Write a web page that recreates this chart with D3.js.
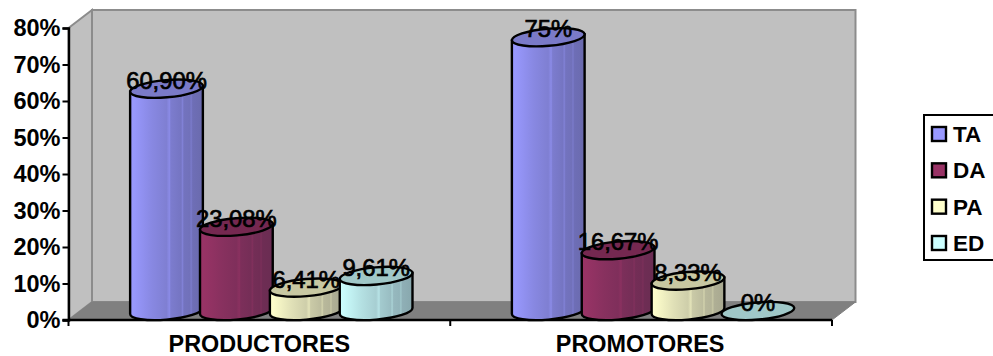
<!DOCTYPE html>
<html>
<head>
<meta charset="utf-8">
<script src="https://cdn.jsdelivr.net/npm/d3@7"></script>
<style>
html,body{margin:0;padding:0;background:#fff;overflow:hidden}
text{font-family:"Liberation Sans",Arial,sans-serif;font-weight:bold;fill:#000}
</style>
</head>
<body>
<svg id="chart" width="993" height="356"></svg>
<script>
const categories = ["PRODUCTORES", "PROMOTORES"];
const seriesNames = ["TA", "DA", "PA", "ED"];
const productores = [60.90, 23.08, 6.41, 9.61];
const promotores = [75, 16.67, 8.33, 0];
const valueLabels = [["60,90%", "23,08%", "6,41%", "9,61%"], ["75%", "16,67%", "8,33%", "0%"]];
const yTicks = [0, 10, 20, 30, 40, 50, 60, 70, 80];
const baseColors = ["#9999ff", "#993366", "#ffffcc", "#ccffff"];
const capColors = ["#7a7ac8", "#752850", "#c8c8a2", "#a0c8c8"];
const seriesValues = [productores, promotores];

const svg = d3.select("#chart");
const x0 = 68.5, x1 = 832, yBottom = 320, yTop = 28;
const depthX = 23.5, depthY = 18;

const y = d3.scaleLinear().domain([0, 80]).range([yBottom, yTop]);
const xCat = d3.scaleBand().domain(categories).range([x0, x1]);
const xSeries = d3.scaleBand().domain(seriesNames).range([0, 279.5]).paddingInner(0);
const barW = 73, rx = barW / 2, ry = 8.6, tilt = -5;

// Horizontal shading shared by every cylinder of one series, with faint facet stripes
const defs = svg.append("defs");
const shadeStops = [[0, 0], [.06, .02], [.3, .14], [.5, .22], [.54, .12], [.56, .24], [.7, .3], [.72, .2], [.74, .32], [.82, .34], [.84, .26], [.86, .36], [.94, .38], [1, .4]];
seriesNames.forEach((s, i) => {
  const g = defs.append("linearGradient").attr("id", "shade" + s);
  shadeStops.forEach(([o, k]) => {
    g.append("stop").attr("offset", o).attr("stop-color", d3.interpolateRgb(baseColors[i], "#222233")(k));
  });
});

// Back wall, side wall and floor
const wall = d => d.map(p => p.join(",")).join(" ");
svg.append("polygon").attr("points", wall([[x0, yTop], [x0 + depthX, yTop - depthY], [x0 + depthX, yBottom - depthY], [x0, yBottom]]))
  .attr("fill", "#c0c0c0").attr("stroke", "#8c8c8c").attr("stroke-width", 2);
svg.append("polygon").attr("points", wall([[x0 + depthX, yTop - depthY], [x1 + depthX, yTop - depthY], [x1 + depthX, yBottom - depthY], [x0 + depthX, yBottom - depthY]]))
  .attr("fill", "#c0c0c0").attr("stroke", "#8c8c8c").attr("stroke-width", 2);
svg.append("polygon").attr("points", wall([[x0, yBottom], [x0 + depthX, yBottom - depthY], [x1 + depthX, yBottom - depthY], [x1, yBottom]]))
  .attr("fill", "#808080").attr("stroke", "#808080");

// Axes
const yAxis = d3.axisLeft(y).tickValues(yTicks).tickFormat(d => d + "%").tickSize(6).tickPadding(2);
const gy = svg.append("g").attr("transform", `translate(${x0},0)`).call(yAxis);
gy.select(".domain").attr("stroke", "#000").attr("stroke-width", 2.4);
gy.selectAll(".tick line").attr("stroke", "#000").attr("stroke-width", 2);
gy.selectAll(".tick text").attr("font-size", 23.5).style("font-family", '"Liberation Sans",Arial,sans-serif').style("font-weight", "bold");

svg.append("line").attr("x1", x0 - 6).attr("x2", x1).attr("y1", yBottom).attr("y2", yBottom).attr("stroke", "#000").attr("stroke-width", 2.4);
const catEdges = [xCat.range()[0], xCat(categories[1]), xCat.range()[1]];
svg.selectAll("line.cat").data(catEdges).join("line").attr("class", "cat")
  .attr("x1", d => d).attr("x2", d => d).attr("y1", yBottom).attr("y2", yBottom + 6)
  .attr("stroke", "#000").attr("stroke-width", 2);
svg.selectAll("text.cat").data(categories).join("text").attr("class", "cat")
  .attr("x", d => xCat(d) + xCat.bandwidth() / 2 - (d === categories[0] ? 0 : 1))
  .attr("y", 352).attr("text-anchor", "middle").attr("font-size", 23.4).text(d => d);

// Side extremes of the tilted ellipse used for the cylinder outline
const th = tilt * Math.PI / 180;
const tt = Math.atan(-(ry / rx) * Math.tan(th));
const extX = rx * Math.cos(tt) * Math.cos(th) - ry * Math.sin(tt) * Math.sin(th);
const extY = rx * Math.cos(tt) * Math.sin(th) + ry * Math.sin(tt) * Math.cos(th);

const groupOffset = 61.5;
const labelLayer = [];
categories.forEach((cat, c) => {
  seriesNames.forEach((s, i) => {
    const v = seriesValues[c][i];
    const cx = xCat(cat) + groupOffset + xSeries(s) + rx;
    const cyBase = yBottom - ry - 0.4;
    const cyTop = y(v) - ry - 0.4;
    if (v > 0) {
      const d = `M${cx - extX},${cyTop - extY}L${cx - extX},${cyBase - extY}` +
        `A${rx},${ry} ${tilt} 0 0 ${cx + extX},${cyBase + extY}` +
        `L${cx + extX},${cyTop + extY}Z`;
      svg.append("path").attr("d", d).attr("fill", `url(#shade${s})`).attr("stroke", "#000").attr("stroke-width", 2.4);
    }
    svg.append("ellipse").attr("cx", 0).attr("cy", 0).attr("rx", rx).attr("ry", ry)
      .attr("transform", `translate(${cx},${cyTop}) rotate(${tilt})`)
      .attr("fill", capColors[i]).attr("stroke", "#000").attr("stroke-width", 2.4);
    labelLayer.push({x: cx, y: cyTop, t: valueLabels[c][i]});
  });
});

svg.selectAll("text.val").data(labelLayer).join("text").attr("class", "val")
  .attr("x", d => d.x).attr("y", d => d.y).attr("text-anchor", "middle")
  .attr("font-size", 23.8).style("font-weight", "normal").style("stroke", "#000").style("stroke-width", 0.7).text(d => d.t);

// Legend
const legendY = d3.scalePoint().domain(seriesNames).range([134, 243]);
svg.append("rect").attr("x", 924).attr("y", 115).attr("width", 80).attr("height", 145)
  .attr("fill", "#fff").attr("stroke", "#000").attr("stroke-width", 2);
seriesNames.forEach((s, i) => {
  svg.append("rect").attr("x", 932).attr("y", legendY(s) - 7).attr("width", 14).attr("height", 14)
    .attr("fill", baseColors[i]).attr("stroke", "#000").attr("stroke-width", 2.4);
  svg.append("text").attr("x", 953).attr("y", legendY(s) + 8).attr("font-size", 22.5).text(s);
});
</script>
</body>
</html>
